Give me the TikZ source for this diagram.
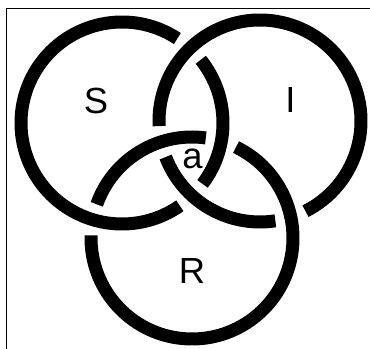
\documentclass[tikz,border=0pt]{standalone}
\usepackage{fontspec}
\setmainfont{Liberation Sans}
\usetikzlibrary{calc}

\begin{document}
\begin{tikzpicture}[x=0.02cm, y=0.02cm,
  ring/.style={line width=0.26cm, draw=black},
  lbl/.style={font=\fontsize{20.7}{24}\selectfont, inner sep=0pt},
  frm/.style={line width=0.024cm}]
  \useasboundingbox (0,0) rectangle (370,349);
  \draw[frm] (6.5,0) -- (6.5,340.5) -- (370,340.5);
  \coordinate (cS) at (122,226);
  \coordinate (cI) at (260,228);
  \coordinate (cR) at (192,111);
  % S under I, I under R, R under S
  \draw[ring] ([shift={(56.75:101)}]cS) arc[start angle=56.75, end angle=304.92, radius=101];
  \draw[ring] ([shift={(-37.08:101)}]cS) arc[start angle=-37.08, end angle=38.75, radius=101];
  \draw[ring] ([shift={(-63.23:101)}]cI) arc[start angle=-63.23, end angle=182.9, radius=101];
  \draw[ring] ([shift={(200.9:101)}]cI) arc[start angle=200.9, end angle=278.77, radius=101];
  \draw[ring] ([shift={(82.14:101)}]cR) arc[start angle=82.14, end angle=160.53, radius=101];
  \draw[ring] ([shift={(178.53:101)}]cR) arc[start angle=178.53, end angle=424.14, radius=101];
  \node[lbl] (labS) at (96,248) {S};
  \node[lbl] (labI) at (290.5,249) {I};
  \node[lbl] (labR) at (192,78.5) {R};
  \node[lbl] (laba) at (192.5,190.5) {a};
\end{tikzpicture}
\end{document}
